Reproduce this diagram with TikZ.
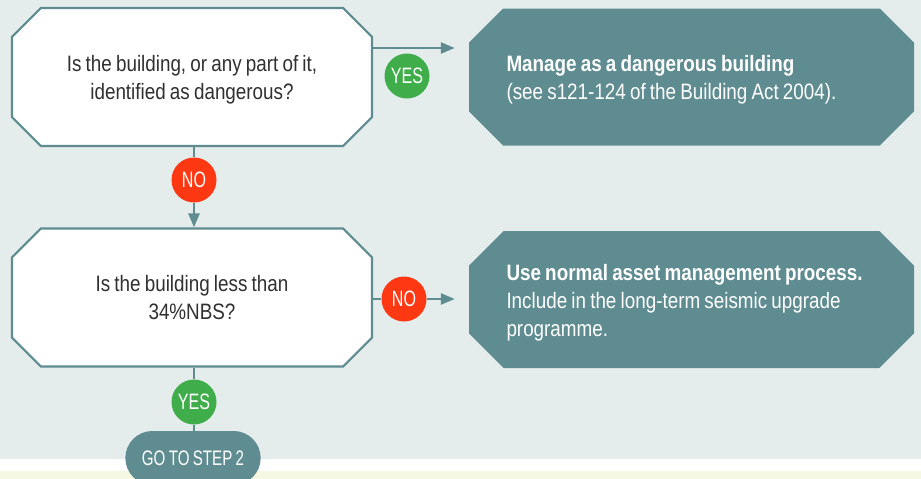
\documentclass[tikz,border=0pt]{standalone}
\usepackage{fontspec}
\setmainfont{Liberation Sans}[FakeStretch=0.845, WordSpace=0.8]
\newfontfamily\capsfont{Liberation Sans}[FakeStretch=0.72, WordSpace=0.8]
\usetikzlibrary{arrows.meta,shapes.misc,positioning}
\definecolor{boxteal}{HTML}{5E8C90}
\definecolor{panelgrey}{HTML}{E4EDEC}
\definecolor{notepale}{HTML}{F5F8E3}
\definecolor{yesgreen}{HTML}{3FAE4A}
\definecolor{nored}{HTML}{FF3814}
\definecolor{inkgrey}{HTML}{303030}
\newcommand{\bodyfont}{\fontsize{22.3pt}{28pt}\selectfont}
\tikzset{
	question/.style={chamfered rectangle, chamfered rectangle xsep=32pt,
			draw=boxteal, line width=2.2pt, fill=white, minimum width=360pt,
			minimum height=138pt, text=inkgrey, align=center, font=\bodyfont,
			text depth=-5pt},
	outcome/.style={chamfered rectangle, chamfered rectangle xsep=31pt,
			fill=boxteal, minimum width=445pt, minimum height=137pt,
			text=white, text width=370pt, align=flush left, font=\bodyfont,
			text height=22pt},
	dot/.style={circle, minimum size=45pt, inner sep=0pt, text=white,
			font=\capsfont\fontsize{22.3pt}{24pt}\selectfont},
	yesdot/.style={dot, fill=yesgreen},
	nodot/.style={dot, fill=nored},
	flow/.style={draw=boxteal, line width=2.5pt},
	flowarrow/.style={flow, -{Triangle[length=14pt,width=11pt]}}
}

\begin{document}
\begin{tikzpicture}[x=1pt, y=-1pt]
	\clip (0,0) rectangle (921,479);
	\fill[panelgrey] (0,0) rectangle (921,459);
	\fill[white] (0,459) rectangle (921,471);
	\fill[notepale] (0,471) rectangle (921,479);

	% questions on the left, outcomes on the right
	\node[question] (dangerous) at (192,77) {Is the building, or any part of it,\\identified as dangerous?};
	\node[question] (belownbs) at (192,297.5) {Is the building less than\\34\%NBS?};
	\node[outcome] (manage) at (691.5,77) {\textbf{Manage as a dangerous building}\\(see s121-124 of the Building Act 2004).};
	\node[outcome] (normal) at (691.5,299.5) {\textbf{Use normal asset management process.}\\Include in the long-term seismic upgrade\\programme.};

	\node[yesdot] (yesone) at (407,76) {YES};
	\node[nodot] (noone) at (194,180) {NO};
	\node[nodot] (notwo) at (404,299) {NO};
	\node[yesdot] (yestwo) at (194,402) {YES};
	\node[rounded rectangle, fill=boxteal, minimum width=142pt, minimum height=54pt,
		text=white, font=\capsfont\fontsize{21pt}{22pt}\selectfont] (steptwo) at (193,458) {GO TO STEP 2};

	\draw[flowarrow] ([yshift=29pt]dangerous.east) -- ([yshift=29pt,xshift=-14pt]manage.west);
	\draw[flow] (noone) -- (noone |- dangerous.south);
	\draw[flowarrow] (noone) -- (noone |- belownbs.north);
	\draw[flow] (notwo) -- (notwo -| belownbs.east);
	\draw[flowarrow] (notwo) -- ([xshift=-14pt]notwo -| normal.west);
	\draw[flow] (yestwo) -- (yestwo |- belownbs.south);
	\draw[flow] (yestwo) -- (yestwo |- steptwo.north);
\end{tikzpicture}
\end{document}
